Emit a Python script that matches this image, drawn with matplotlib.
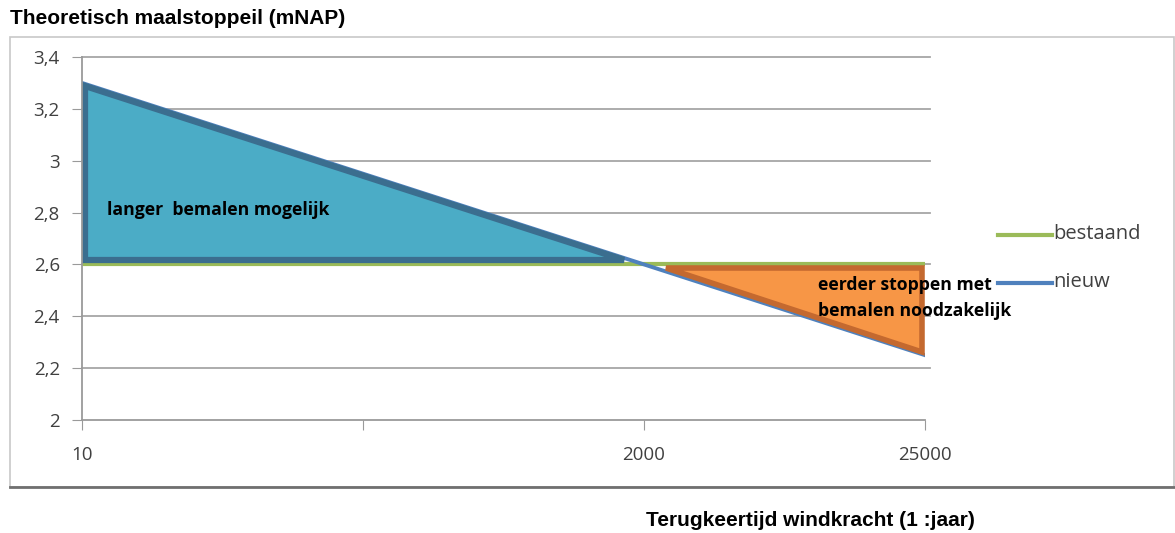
import numpy as np
import matplotlib.pyplot as plt
from matplotlib.patches import Polygon, Rectangle
from matplotlib.lines import Line2D

# data
categories = ['10', '', '2000', '25000']
bestaand = [2.6, 2.6, 2.6, 2.6]
nieuw_start, nieuw_end = 3.3, 2.25
yticks = [2, 2.2, 2.4, 2.6, 2.8, 3, 3.2, 3.4]
ytick_labels = ['2', '2,2', '2,4', '2,6', '2,8', '3', '3,2', '3,4']

x = np.arange(len(categories))
x_cross = (nieuw_start - bestaand[0]) / (nieuw_start - nieuw_end) * x[-1]

fig = plt.figure(figsize=(11.75, 5.33), dpi=100)
W, H = 1175, 533

# outer chart frame
frame = Rectangle((10 / W, 1 - 487 / H), 1 - 11 / W, (487 - 37) / H, transform=fig.transFigure,
                  fill=False, edgecolor='#c8c8c8', linewidth=1.2)
fig.add_artist(frame)
fig.add_artist(Line2D([10 / W, 1], [1 - 487 / H] * 2, transform=fig.transFigure,
                      color='#707070', linewidth=2))

ax = fig.add_axes([82 / W, 1 - 420 / H, (925 - 82) / W, (420 - 57) / H])
ax.set_xlim(0, 3)
ax.set_ylim(2, 3.4)
for y in yticks[1:]:
    ax.axhline(y, color='#a6a6a6', linewidth=1.3, zorder=0, xmax=1.006, clip_on=False)

# lines first, areas drawn on top
ax.plot(x, bestaand, color='#9bbb59', linewidth=3, zorder=1, solid_capstyle='butt')
ax.plot([x[0], x[-1]], [nieuw_start, nieuw_end], color='#4f81bd', linewidth=2.8, zorder=1)

blue_tri = Polygon([(0.01, nieuw_start - 0.01), (0.01, 2.617), (x_cross - 0.07, 2.617)], closed=True,
                   facecolor='#4bacc6', edgecolor='#3b6e8f', linewidth=4.5, joinstyle='miter', zorder=2)
ax.add_patch(blue_tri)
orange_tri = Polygon([(x_cross + 0.08, 2.585), (2.99, 2.585), (2.99, nieuw_end + 0.012)], closed=True,
                     facecolor='#f79646', edgecolor='#c4692f', linewidth=4, zorder=2)
ax.add_patch(orange_tri)

ax.set_yticks(yticks)
ax.set_yticklabels(ytick_labels)
ax.set_xticks(x)
ax.set_xticklabels(categories)
for s in ['top', 'right']:
    ax.spines[s].set_visible(False)
ax.spines['left'].set_color('#9a9a9a')
ax.spines['bottom'].set_color('#9a9a9a')
ax.spines['left'].set_linewidth(1.3)
ax.spines['bottom'].set_linewidth(1.3)
ax.tick_params(axis='y', length=7, color='#9a9a9a', labelsize=13.5, labelcolor='#404040', pad=9)
ax.tick_params(axis='x', length=7, color='#9a9a9a', labelsize=13.5, labelcolor='#404040', pad=12)
for lbl in ax.get_xticklabels() + ax.get_yticklabels():
    lbl.set_family('Open Sans')

ax.text(0.09, 2.81, 'langer  bemalen mogelijk', fontsize=12.7, fontweight='bold',
        family='Open Sans', ha='left', va='center', zorder=5)
ax.text(2.62, 2.52, 'eerder stoppen met', fontsize=12.7, fontweight='bold',
        family='Open Sans', ha='left', va='center', zorder=5)
ax.text(2.62, 2.42, 'bemalen noodzakelijk', fontsize=12.7, fontweight='bold',
        family='Open Sans', ha='left', va='center', zorder=5)

# legend drawn by hand on the right
for yy, col, name in [(235, '#9bbb59', 'bestaand'), (283, '#4f81bd', 'nieuw')]:
    fig.add_artist(Line2D([998 / W, 1052 / W], [1 - yy / H] * 2, transform=fig.transFigure,
                          color=col, linewidth=3))
    fig.text(1053 / W, 1 - (yy - 1) / H, name, fontsize=14.5, family='Open Sans', color='#404040',
             ha='left', va='center')

fig.text(10 / W, 1 - 19 / H, 'Theoretisch maalstoppeil (mNAP)', fontsize=15,
         fontweight='bold', family='Liberation Sans', ha='left', va='center')
fig.text(810 / W, 1 - 520 / H, 'Terugkeertijd windkracht (1 :jaar)', fontsize=15,
         fontweight='bold', family='Liberation Sans', ha='center', va='center')

fig.savefig('out.png', dpi=100)
